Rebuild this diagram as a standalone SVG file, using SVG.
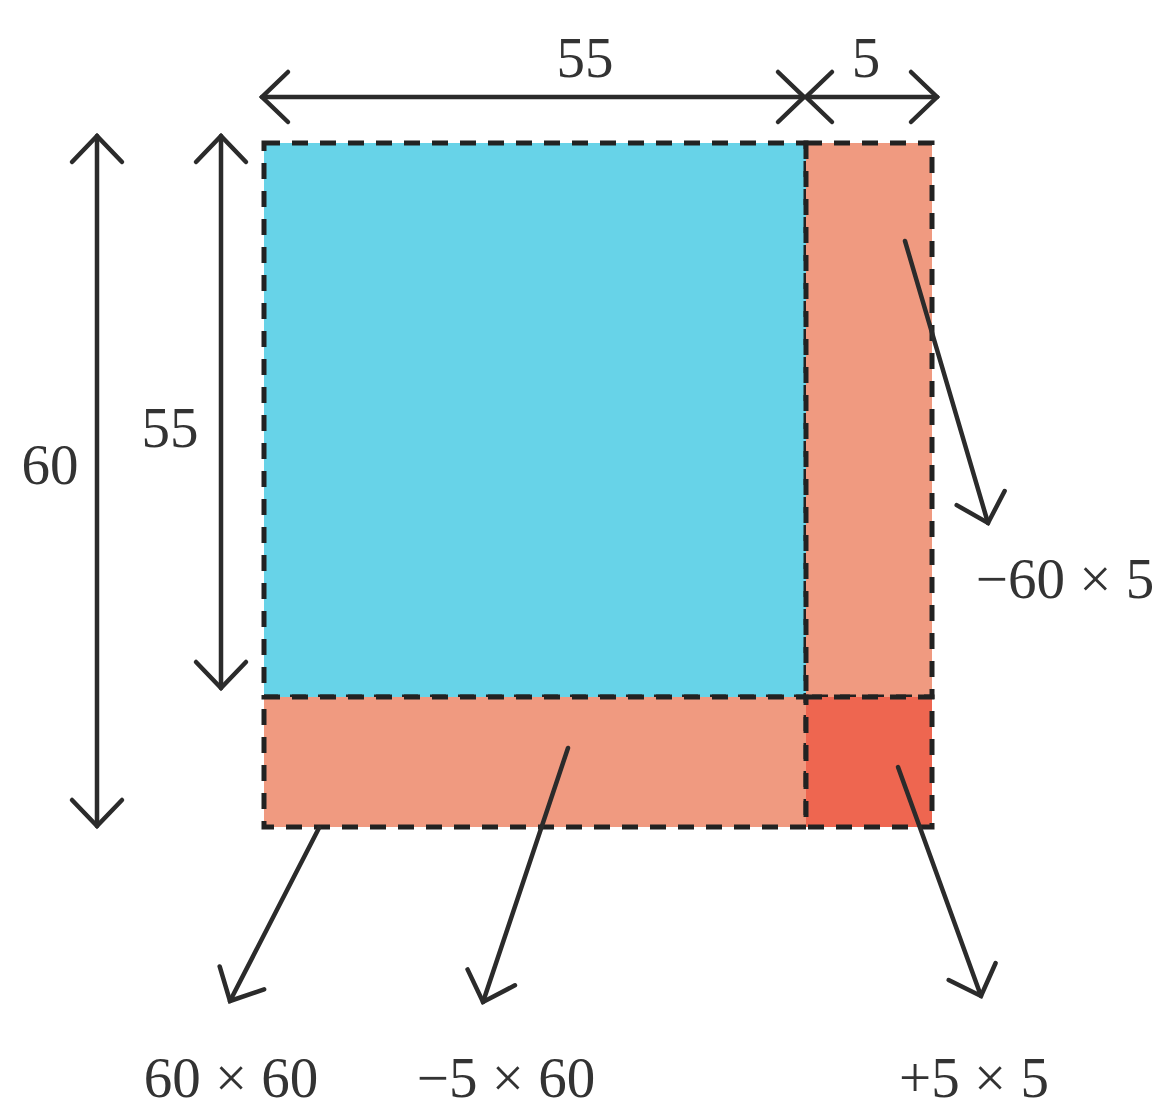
<svg xmlns="http://www.w3.org/2000/svg" width="1167" height="1109" viewBox="0 0 1167 1109">
<style>
.lbl{font-family:"Liberation Serif",serif;font-size:57px;fill:#333;text-anchor:middle}
.cell{stroke:#222;stroke-width:5;stroke-dasharray:16 12}
.arr{stroke:#2b2b2b;stroke-width:4.5;fill:none;stroke-linecap:round}
</style>
<defs>
<marker id="ah" markerUnits="userSpaceOnUse" markerWidth="60" markerHeight="60" viewBox="-30 -30 60 60" refX="0" refY="0" orient="auto-start-reverse">
<path d="M-26,-25 L0,0 L-26,25" fill="none" stroke="#2b2b2b" stroke-width="4.5" stroke-linecap="round" stroke-linejoin="miter"/>
</marker>
</defs>
<rect width="1167" height="1109" fill="#fff"/>
<g id="blue-square"><rect class="cell" x="264" y="143" width="542" height="554" fill="#67D3E8"/></g>
<g id="right-strip"><rect class="cell" x="806" y="143" width="126" height="554" fill="#F09A80"/></g>
<g id="bottom-strip"><rect class="cell" x="264" y="697" width="542" height="130" fill="#F09A80"/></g>
<g id="corner"><rect class="cell" x="806" y="697" width="126" height="130" fill="#EE6650"/></g>
<g id="connectors">
<line class="arr" x1="262" y1="97" x2="804" y2="97" marker-start="url(#ah)" marker-end="url(#ah)"/>
<line class="arr" x1="806" y1="97" x2="937" y2="97" marker-start="url(#ah)" marker-end="url(#ah)"/>
<line class="arr" x1="97" y1="136" x2="97" y2="826" marker-start="url(#ah)" marker-end="url(#ah)"/>
<line class="arr" x1="221" y1="136" x2="221" y2="688" marker-start="url(#ah)" marker-end="url(#ah)"/>
<line class="arr" x1="905" y1="241" x2="988" y2="523" marker-end="url(#ah)"/>
<line class="arr" x1="568" y1="748" x2="483" y2="1002" marker-end="url(#ah)"/>
<line class="arr" x1="319" y1="828" x2="230" y2="1001" marker-end="url(#ah)"/>
<line class="arr" x1="898" y1="767" x2="981" y2="996" marker-end="url(#ah)"/>
</g>
<g id="labels">
<text class="lbl" x="585" y="77">55</text>
<text class="lbl" x="866" y="77">5</text>
<text class="lbl" x="50" y="484">60</text>
<text class="lbl" x="170" y="447">55</text>
<text class="lbl" x="1065" y="598">−60 × 5</text>
<text class="lbl" x="231" y="1097">60 × 60</text>
<text class="lbl" x="506" y="1097">−5 × 60</text>
<text class="lbl" x="974" y="1097">+5 × 5</text>
</g>
</svg>
